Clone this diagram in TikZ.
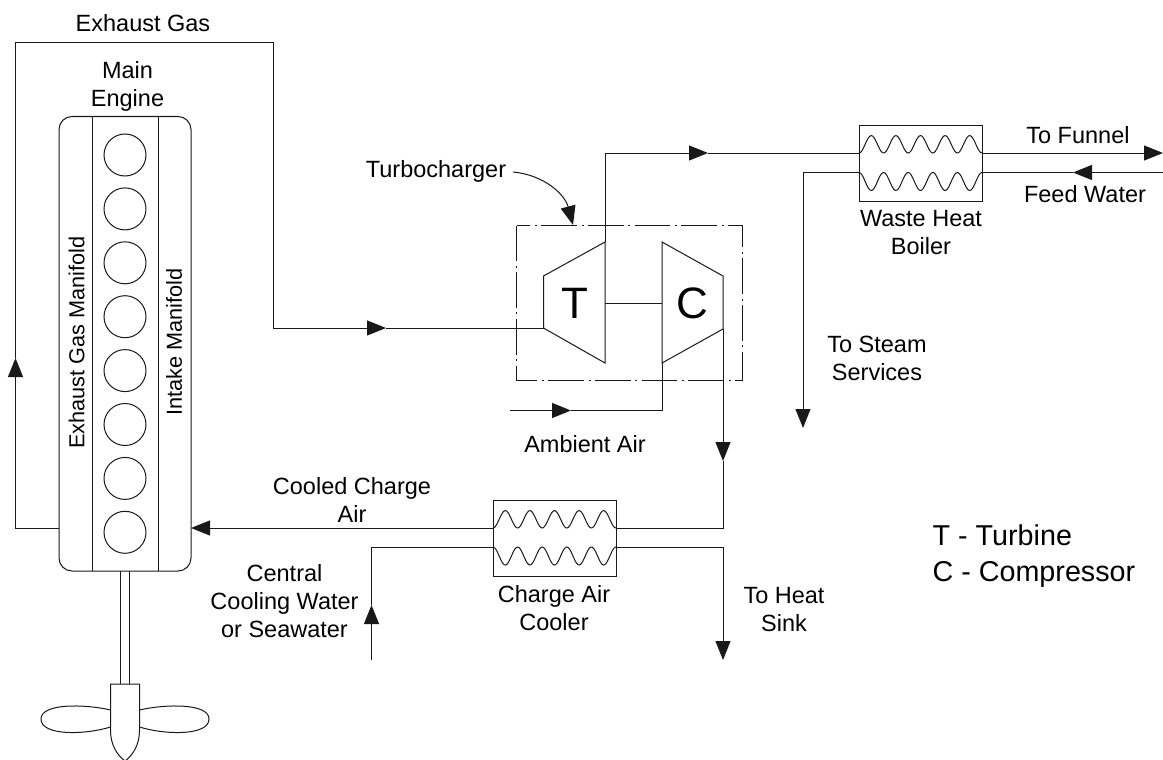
\documentclass[tikz,border=0pt]{standalone}
\usepackage{fontspec}
\setmainfont{Liberation Sans}
\usetikzlibrary{arrows.meta}

\tikzset{
  line/.style={line width=1pt,black!90},
  flow/.style={line,-{Triangle[length=19pt,width=15pt]}},
  lbl/.style={font=\fontsize{23.5}{28}\selectfont,align=center,inner sep=0pt},
  lblside/.style={font=\fontsize{21.7}{26}\selectfont,rotate=90,inner sep=0pt},
  lblbig/.style={font=\fontsize{28.7}{36}\selectfont,align=left,inner sep=0pt},
  letter/.style={font=\fontsize{44}{44}\selectfont,inner sep=0pt},
  unit/.style={draw,line,inner sep=0pt,minimum width=123pt,minimum height=76pt},
  cyl/.style={draw,line,circle,inner sep=0pt,minimum size=42pt},
}

\begin{document}
\begin{tikzpicture}[x=1pt,y=-1pt]

\newcommand\Coils[3]{%
  \draw[line] plot[domain=0:5,samples=101,smooth] ({#1+24.6*\x},{#2-8.7*(1-cos(360*\x))});
  \draw[line] plot[domain=0:5,samples=101,smooth] ({#1+24.6*\x},{#3+9*(1-cos(360*\x))});
}

  \useasboundingbox (0,0) rectangle (1163,760);

  %% engine
  \draw[line,rounded corners=13pt] (59,116.5) rectangle (191,571);
  \draw[line] (92,116.5) -- (92,571);
  \draw[line] (158,116.5) -- (158,571);
  \foreach \i in {0,...,7}
    \node[cyl] (cyl\i) at (125,155+53.9*\i) {};
  \coordinate (exout) at (59,528);
  \coordinate (inlet) at (191,528);

  %% shaft and propeller
  \draw[line] (120.5,571) -- (120.5,684);
  \draw[line] (129.5,571) -- (129.5,684);
  \draw[line] (110.5,730) -- (110.5,684) -- (139.5,684) -- (139.5,730)
    .. controls (139.5,745) and (133,755) .. (125,761)
    .. controls (117,755) and (110.5,745) .. (110.5,730);
  \draw[line] (110.5,710) .. controls (85,704) and (41,703) .. (41,719)
    .. controls (41,736) and (85,735) .. (110.5,727);
  \draw[line] (139.5,710) .. controls (165,704) and (209,703) .. (209,719)
    .. controls (209,736) and (165,735) .. (139.5,727);

  %% turbocharger
  \draw[line,dash pattern=on 35.7pt off 4.5pt on 2pt off 4.5pt] (516.5,225.5) rectangle (742,380.5);
  \draw[line] (543.5,276) coordinate (tl) -- (605,242) coordinate (tout)
    -- (605,363) -- (543.5,328) coordinate (tin) -- cycle;
  \draw[line] (662,242) -- (723,276) -- (723,329) coordinate (cout)
    -- (662,363) coordinate (cin) -- cycle;
  \node[letter] (tlet) at (574.5,303) {T};
  \node[letter] (clet) at (692.5,303) {C};
  \draw[line] (605,303) -- (662,303);

  %% waste heat boiler
  \node[unit,anchor=north west] (whb) at (859,125) {};
  \Coils{859}{153}{172.5}

  %% charge air cooler
  \node[unit,anchor=north west] (cac) at (493,499.5) {};
  \Coils{493}{528}{547}

  %% exhaust gas
  \coordinate (exup) at (15.5,358);
  \coordinate (extop) at (15.5,43);
  \coordinate (exdown) at (273,328);
  \coordinate (exmid) at (386,328);
  \draw[flow] (exout) -- (15.5,528) -- (exup);
  \draw[line] (exup) -- (extop) -- (273,43) -- (exdown);
  \draw[flow] (exdown) -- (exmid);
  \draw[line] (exmid) -- (tin);

  %% turbine to boiler
  \coordinate (tmid) at (708,153);
  \draw[flow] (tout) -- (605,153) -- (tmid);
  \draw[line] (tmid) -- (859,153);
  \coordinate (funnel) at (1163,153);
  \draw[flow] (982,153) -- (funnel);
  \coordinate (feedin) at (1163,172.5);
  \coordinate (feedmid) at (1073,172.5);
  \draw[flow] (feedin) -- (feedmid);
  \draw[line] (feedmid) -- (982,172.5);
  \coordinate (steam) at (803,428);
  \draw[flow] (859,172.5) -- (803,172.5) -- (steam);

  %% ambient air and charge air
  \coordinate (airin) at (510,410.5);
  \coordinate (airmid) at (571,410.5);
  \draw[flow] (airin) -- (airmid);
  \draw[line] (airmid) -- (662,410.5) -- (cin);
  \coordinate (chgmid) at (723,461);
  \draw[flow] (cout) -- (chgmid);
  \draw[line] (chgmid) -- (723,528) -- (616,528);
  \draw[flow] (493,528) -- (inlet);

  %% cooling water
  \coordinate (cwin) at (371.5,660);
  \coordinate (cwmid) at (371.5,605);
  \draw[flow] (cwin) -- (cwmid);
  \draw[line] (cwmid) -- (371.5,547) -- (493,547);
  \coordinate (sink) at (723,660);
  \draw[flow] (616,547) -- (723,547) -- (sink);

  %% labels
  \node[lbl] (exgas) at (143,23) {Exhaust Gas};
  \node[lbl] (engine) at (127.5,86) {Main\\Engine};
  \node[lblside] (exman) at (76.5,342.5) {Exhaust Gas Manifold};
  \node[lblside] (inman) at (174,342) {Intake Manifold};
  \node[lbl] (turbo) at (436,171) {Turbocharger};
  \coordinate (ptr) at (513,172);
  \coordinate (ptrend) at (573,225);
  \draw[flow] (ptr) .. controls (545,175) and (565,195) .. (ptrend);
  \node[lbl] (whblbl) at (921,233) {Waste Heat\\Boiler};
  \node[lbl] (fnl) at (1078,135) {To Funnel};
  \node[lbl] (fw) at (1085,194) {Feed Water};
  \node[lbl] (stm) at (877,358) {To Steam\\Services};
  \node[lbl] (air) at (585,444) {Ambient Air};
  \node[lbl] (cooled) at (352,500) {Cooled Charge\\Air};
  \node[lbl] (cw) at (284.5,601) {Central\\Cooling Water\\or Seawater};
  \node[lbl] (caclbl) at (554,608) {Charge Air\\Cooler};
  \node[lbl] (hs) at (784,610) {To Heat\\Sink};
  \node[lblbig,anchor=north west] (key) at (932.5,525) {T - Turbine\\C - Compressor};

\end{tikzpicture}
\end{document}
